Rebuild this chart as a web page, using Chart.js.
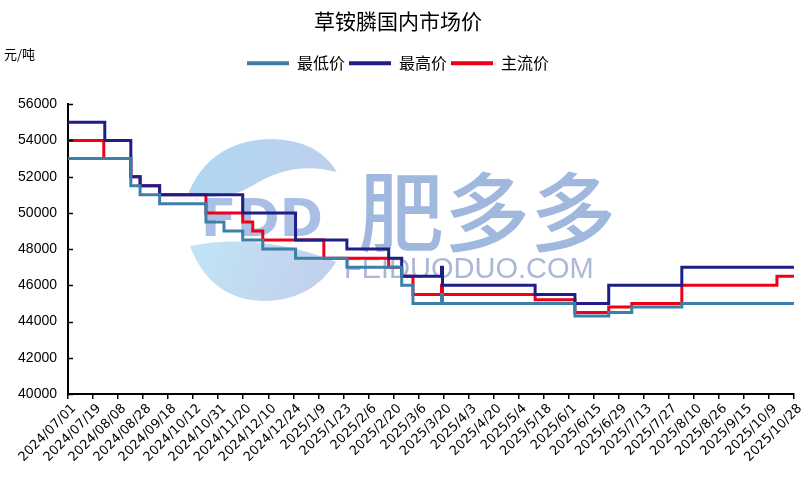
<!DOCTYPE html>
<html>
<head>
<meta charset="utf-8">
<script src="https://cdn.jsdelivr.net/npm/chart.js@4"></script>
<style>
  html, body { margin: 0; padding: 0; background: #fff; }
  #wrap { width: 807px; height: 484px; }
</style>
</head>
<body>
<div id="wrap"><canvas id="priceCanvas" width="807" height="484"></canvas></div>
<script>
// 草铵膦国内市场价 — stepped price lines, x in units of label slots

const tickLabels = [
  '2024/07/01', '2024/07/19', '2024/08/08', '2024/08/28', '2024/09/18', '2024/10/12',
  '2024/10/31', '2024/11/20', '2024/12/10', '2024/12/24', '2025/1/9', '2025/1/23',
  '2025/2/6', '2025/2/20', '2025/3/6', '2025/3/20', '2025/4/3', '2025/4/20',
  '2025/5/4', '2025/5/18', '2025/6/1', '2025/6/15', '2025/6/29', '2025/7/13',
  '2025/7/27', '2025/8/10', '2025/8/26', '2025/9/15', '2025/10/9', '2025/10/28'
];

// 最低价
const lowX = [0, 2.51, 2.88, 3.66, 5.51, 6.23, 6.98, 7.78, 9.09, 11.14, 13.33, 13.78, 14.92, 14.96, 20.25, 21.60, 22.52, 24.52, 29];
const lowY = [53000, 51500, 51000, 50500, 49500, 49000, 48500, 48000, 47500, 47000, 46000, 45000, 45500, 45000, 44300, 44500, 44800, 45000, 45000];

// 最高价
const highX = [0, 1.47, 2.51, 2.88, 3.66, 6.98, 9.09, 11.14, 12.81, 13.33, 14.92, 14.96, 18.66, 20.25, 21.60, 24.52, 29];
const highY = [55000, 54000, 52000, 51500, 51000, 50000, 48500, 48000, 47500, 46500, 47000, 46000, 45500, 45000, 46000, 47000, 47000];

// 主流价
const mainX = [0, 1.43, 2.51, 2.88, 3.66, 5.51, 6.98, 7.38, 7.78, 10.22, 12.81, 13.33, 13.78, 14.92, 14.96, 18.66, 20.25, 21.60, 22.52, 24.52, 28.32, 29];
const mainY = [54000, 53000, 52000, 51500, 51000, 50000, 49500, 49000, 48500, 47500, 47000, 46500, 45500, 46000, 45500, 45200, 44500, 44800, 45000, 46000, 46500, 46500];

const toPoints = (xs, ys) => xs.map((x, i) => ({ x, y: ys[i] }));

const CJK = '"Noto Sans CJK SC", "Noto Sans", sans-serif';

function series(label, xs, ys, color) {
  return {
    label,
    data: toPoints(xs, ys),
    borderColor: color,
    backgroundColor: color,
    borderWidth: 3,
    pointRadius: 0,
    stepped: 'before',
    fill: false,
  };
}

const extras = {
  id: 'extras',
  afterInit(chart) {
    // leave room between the legend and the plot
    const lg = chart.legend;
    const fit = lg.fit.bind(lg);
    lg.fit = function () { fit(); this.height += 23; };
  },
  beforeDatasetsDraw(chart) {
    const ctx = chart.ctx;
    ctx.save();
    // FDD logo leaves
    const cx = 262, cy = 222;
    const g1 = ctx.createLinearGradient(190, 140, 330, 215);
    g1.addColorStop(0, 'rgba(130,195,238,0.65)');
    g1.addColorStop(1, 'rgba(160,180,225,0.65)');
    ctx.fillStyle = g1;
    ctx.beginPath();
    ctx.moveTo(188, 194);
    ctx.quadraticCurveTo(210, 140, 272, 139);
    ctx.quadraticCurveTo(318, 140, 337, 172);
    ctx.quadraticCurveTo(292, 160, 252, 186);
    ctx.quadraticCurveTo(225, 202, 188, 194);
    ctx.fill();
    const g2 = ctx.createLinearGradient(190, 240, 330, 300);
    g2.addColorStop(0, 'rgba(160,215,242,0.65)');
    g2.addColorStop(1, 'rgba(160,180,225,0.65)');
    ctx.fillStyle = g2;
    ctx.beginPath();
    ctx.moveTo(190, 246);
    ctx.quadraticCurveTo(262, 232, 336, 262);
    ctx.quadraticCurveTo(312, 301, 262, 301);
    ctx.quadraticCurveTo(210, 299, 190, 246);
    ctx.fill();
    ctx.fillStyle = 'rgba(140,170,220,0.75)';
    ctx.font = 'bold 52px "DejaVu Sans", sans-serif';
    ctx.textAlign = 'center';
    ctx.textBaseline = 'middle';
    ctx.fillText('FDD', cx, cy);
    // 肥多多 FEIDUODUO.COM
    ctx.fillStyle = 'rgba(150,176,218,0.9)';
    ctx.font = '500 86px ' + CJK;
    ctx.textAlign = 'left';
    ctx.textBaseline = 'alphabetic';
    ctx.fillText('肥多多', 358, 245);
    ctx.fillStyle = 'rgba(150,168,205,0.8)';
    ctx.font = '29px "Liberation Sans", sans-serif';
    ctx.fillText('FEIDUODUO.COM', 344, 278);
    ctx.restore();
  },
  afterDraw(chart) {
    const ctx = chart.ctx;
    const y = chart.scales.y;
    ctx.save();
    ctx.strokeStyle = '#000';
    ctx.lineWidth = 1.5;
    ctx.beginPath();
    y.ticks.forEach(t => {
      const py = Math.round(y.getPixelForValue(t.value)) + 0.5;
      ctx.moveTo(y.right, py);
      ctx.lineTo(y.right + 5, py);
    });
    ctx.stroke();
    ctx.fillStyle = '#000';
    ctx.font = '13px ' + CJK;
    ctx.textBaseline = 'middle';
    ctx.fillText('元/吨', 4, 54);
    ctx.restore();
  }
};

new Chart(document.getElementById('priceCanvas'), {
  type: 'line',
  data: {
    datasets: [
      series('最低价', lowX, lowY, '#3C80AA'),
      series('最高价', highX, highY, '#1E1E86'),
      series('主流价', mainX, mainY, '#EE0018'),
    ]
  },
  options: {
    responsive: false,
    animation: false,
    devicePixelRatio: 1,
    layout: { padding: { left: 0, right: 11, top: 0, bottom: 0 } },
    plugins: {
      title: {
        display: true,
        text: '草铵膦国内市场价',
        color: '#000',
        font: { family: CJK, size: 21, weight: 'normal' },
        padding: { top: 8, bottom: 18 }
      },
      legend: {
        display: true,
        position: 'top',
        labels: {
          boxWidth: 42,
          boxHeight: 4,
          padding: 4,
          color: '#000',
          font: { family: CJK, size: 16 },
          generateLabels: chart => chart.data.datasets.map((ds, i) => ({
            text: ds.label,
            fillStyle: ds.borderColor,
            strokeStyle: ds.borderColor,
            lineWidth: 0,
            datasetIndex: i,
            hidden: false
          }))
        }
      },
      tooltip: { enabled: false }
    },
    scales: {
      x: {
        type: 'linear',
        min: 0,
        max: 29,
        afterBuildTicks: scale => { scale.ticks = tickLabels.map((_, i) => ({ value: i })); },
        afterFit: scale => { scale.height = 90; },
        border: { display: true, color: '#000', width: 2 },
        grid: { display: true, drawOnChartArea: false, drawTicks: true, tickLength: 5, color: '#000', lineWidth: 1.5 },
        ticks: {
          autoSkip: false,
          maxRotation: 45,
          minRotation: 45,
          padding: 2,
          labelOffset: 6,
          color: '#000',
          font: { family: '"DejaVu Sans", sans-serif', size: 13 },
          callback: v => tickLabels[v]
        }
      },
      y: {
        min: 40000,
        max: 56000,
        afterFit: scale => { scale.width = 68; },
        border: { display: true, color: '#000', width: 2 },
        grid: { display: false, drawTicks: false },
        ticks: {
          stepSize: 2000,
          padding: 11,
          color: '#000',
          font: { family: '"Liberation Sans", Arial, sans-serif', size: 14 },
          callback: v => String(v)
        }
      }
    }
  },
  plugins: [extras]
});
</script>
</body>
</html>
